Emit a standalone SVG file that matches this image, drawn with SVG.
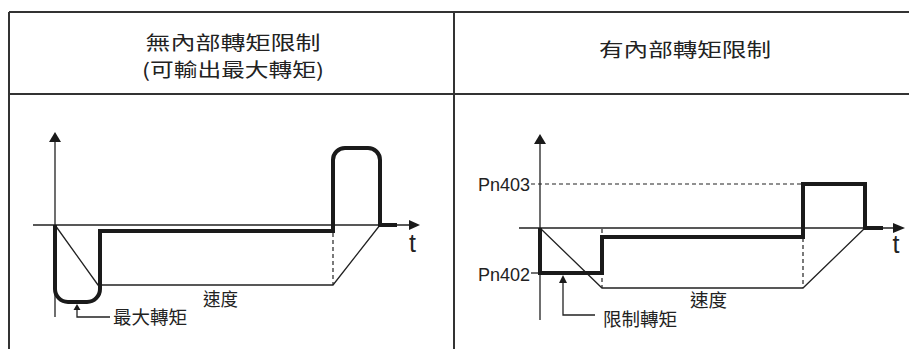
<svg xmlns="http://www.w3.org/2000/svg" width="909" height="349" viewBox="0 0 909 349">
<style>
.tbl{stroke:#333;stroke-width:2;fill:none}
.axis{stroke:#222;stroke-width:1.3;fill:none}
.thin{stroke:#222;stroke-width:1.3;fill:none}
.thick{stroke:#1a1a1a;stroke-width:4;fill:none;stroke-linejoin:miter}
.dash{stroke:#222;stroke-width:1.2;fill:none;stroke-dasharray:4,3}
.head{font-family:"Noto Sans CJK TC","Noto Sans CJK SC",sans-serif;font-size:19px;fill:#222;text-anchor:middle}
.lbl{font-family:"Noto Sans CJK TC","Noto Sans CJK SC",sans-serif;font-size:18.5px;fill:#222}
.lat{font-family:"Liberation Sans",Arial,sans-serif;fill:#222}
.ah{fill:#1a1a1a}
</style>
<rect width="909" height="349" fill="#fff"/>
<g id="table">
<path class="tbl" d="M9,12 H910 M9,94 H910 M9,12 V349 M454,12 V349"/>
</g>
<g id="header-left">
<text class="head" x="233" y="50" textLength="175" lengthAdjust="spacingAndGlyphs">無內部轉矩限制</text>
<text class="head" x="233" y="77" textLength="182" lengthAdjust="spacingAndGlyphs">(可輸出最大轉矩)</text>
</g>
<g id="header-right">
<text class="head" x="685" y="57" textLength="172" lengthAdjust="spacingAndGlyphs">有內部轉矩限制</text>
</g>
<g id="connectors">
<path class="axis" d="M55,317 V140 M33,225 H411"/>
<polygon class="ah" points="55,132 49,142 61,142"/>
<polygon class="ah" points="420,225 409,220 409,230"/>
<path class="thin" d="M55,225 L98,285 H333 L380,225"/>
<path class="dash" d="M333,233 V285"/>
<path class="thick" d="M55,225 V289 A13,13 0 0 0 68,302 H87 A13,13 0 0 0 100,289 V231 H333 V160 A12,12 0 0 1 345,148 H368 A12,12 0 0 1 380,160 V225 H397"/>
<path class="thin" d="M77,309 V317 H110"/>
<polygon class="ah" points="77,304 73.5,310 80.5,310"/>
<path class="axis" d="M540,320 V142 M519,228 H895"/>
<polygon class="ah" points="540,134 534,144 546,144"/>
<polygon class="ah" points="905,228 893,223 893,233"/>
<path class="dash" d="M531,184 H803"/>
<path class="thin" d="M531,273 H540"/>
<path class="dash" d="M602,229 V288 M803,238 V288"/>
<path class="thin" d="M540,228 L602,288 H803 L865,228"/>
<path class="thick" d="M540,228 V273 H602 V237 H803 V184 H865 V228 H883"/>
<path class="thin" d="M563,281 V315 H595"/>
<polygon class="ah" points="563,275 559,283 567,283"/>
</g>
<g id="labels-left">
<text class="lat" x="412.5" y="252" font-size="25" text-anchor="middle">t</text>
<text class="lbl" x="203" y="305.5" textLength="35" lengthAdjust="spacingAndGlyphs">速度</text>
<text class="lbl" x="113" y="323.5" textLength="74" lengthAdjust="spacingAndGlyphs">最大轉矩</text>
</g>
<g id="labels-right">
<text class="lat" x="896" y="253" font-size="25" text-anchor="middle">t</text>
<text class="lat" x="530" y="190.5" font-size="18" text-anchor="end">Pn403</text>
<text class="lat" x="530" y="280.5" font-size="18" text-anchor="end">Pn402</text>
<text class="lbl" x="690" y="306.5" textLength="37" lengthAdjust="spacingAndGlyphs">速度</text>
<text class="lbl" x="603" y="325.5" textLength="74" lengthAdjust="spacingAndGlyphs">限制轉矩</text>
</g>
</svg>
